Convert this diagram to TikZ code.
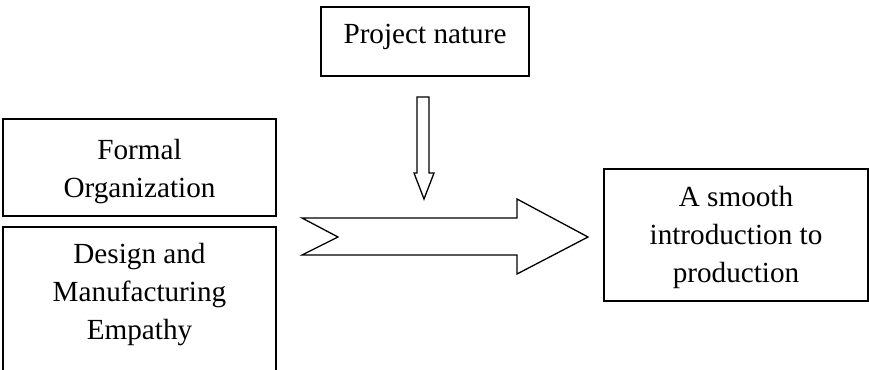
\documentclass[tikz,border=0pt]{standalone}
\usepackage{fontspec}
\setmainfont{Liberation Serif}
\begin{document}
\begin{tikzpicture}[x=1pt,y=-1pt,
  box/.style={draw=black,line width=1.6pt,rectangle,inner sep=0pt},
  lbl/.style={align=center,inner sep=0pt,font=\fontsize{29.2}{38}\selectfont},
  blockarrow/.style={draw=black,line width=1.3pt,fill=white,line join=miter}]
  \clip (0,0) rectangle (869,369);

  % boxes
  \node[box,minimum width=208pt,minimum height=69pt]  (projbox)   at (425,41.5)  {};
  \node[box,minimum width=273pt,minimum height=97pt]  (formalbox) at (139.5,167.5) {};
  \node[box,minimum width=273pt,minimum height=153pt] (designbox) at (139.5,303.5) {};
  \node[box,minimum width=264pt,minimum height=132pt] (smoothbox) at (736,235)   {};

  % labels, placed by the baseline of their last line
  \node[lbl,anchor=base] (proj)   at (425,44)    {Project nature};
  \node[lbl,anchor=base] (formal) at (139.5,197) {Formal\\Organization};
  \node[lbl,anchor=base] (design) at (139.5,339) {Design and\\Manufacturing\\Empathy};
  \node[lbl,anchor=base] (smooth) at (736,282)   {A smooth\\introduction to\\production};

  % hollow arrow from the project nature box down onto the main arrow
  \coordinate (dtip) at (424,199);
  \draw[blockarrow] (417,97) -- (429,97) -- (429,173) -- (434,173) -- (dtip)
    -- (414,173) -- (417,173) -- cycle;

  % main notched arrow pointing to the outcome box
  \coordinate (mtail) at (338,237);
  \coordinate (mtip)  at (588,237);
  \draw[blockarrow] (302,218) -- (517,218) -- (517,199) -- (mtip) -- (517,274)
    -- (517,255) -- (302,255) -- (mtail) -- cycle;
\end{tikzpicture}
\end{document}
